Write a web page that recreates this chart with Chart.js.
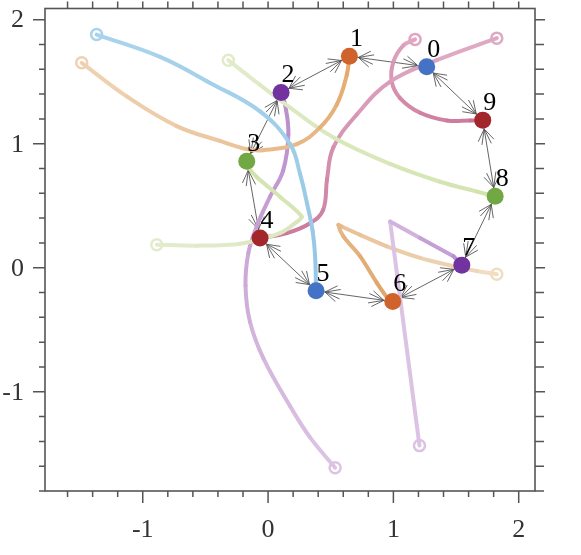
<!DOCTYPE html>
<html lang="en">
<head>
<meta charset="UTF-8">
<title>ring graph with paths</title>
<script src="https://cdn.jsdelivr.net/npm/chart.js"></script>
<style>
  html, body { margin: 0; padding: 0; background: #fff; }
  #wrap { width: 581px; height: 555px; }
</style>
</head>
<body>
<div id="wrap"><canvas id="myChart"></canvas></div>
<script>
// nodes 0..9
const nodeX = [1.266, 0.649, 0.104, -0.170, -0.064, 0.383, 0.995, 1.546, 1.812, 1.713];
const nodeY = [1.620, 1.705, 1.413, 0.858, 0.239, -0.186, -0.273, 0.021, 0.576, 1.190];
const nodeLabels = ["0", "1", "2", "3", "4", "5", "6", "7", "8", "9"];

// ring edges
const edgeFrom = [0, 1, 2, 3, 4, 5, 6, 7, 8, 9];
const edgeTo   = [1, 2, 3, 4, 5, 6, 7, 8, 9, 0];

// paths (start point first), each one ends at its node
const path5 = [[-1.368, 1.880], [-0.862, 1.700], [-0.463, 1.490], [-0.064, 1.261], [0.176, 0.996], [0.255, 0.757], [0.311, 0.518], [0.355, 0.300], [0.375, 0.100]];
const path1 = [[-1.487, 1.652], [-1.128, 1.381], [-0.729, 1.142], [-0.383, 1.022], [-0.170, 0.956], [-0.040, 0.948], [0.229, 0.996], [0.415, 1.131], [0.548, 1.315], [0.628, 1.554]];
const path8 = [[-0.317, 1.673], [-0.064, 1.474], [0.176, 1.291], [0.519, 1.052], [0.974, 0.837], [1.373, 0.693], [1.668, 0.614]];
const path3 = [[-0.888, 0.186], [-0.569, 0.178], [-0.223, 0.194], [0.096, 0.279], [0.230, 0.370], [0.269, 0.412], [0.096, 0.571], [-0.090, 0.731], [-0.157, 0.810]];
const path4 = [[1.825, 1.851], [1.346, 1.673], [0.974, 1.500], [0.708, 1.235], [0.521, 0.970], [0.471, 0.717], [0.439, 0.465], [0.335, 0.359], [0.149, 0.279]];
const path9 = [[1.173, 1.841], [1.080, 1.793], [1.000, 1.660], [0.987, 1.500], [1.053, 1.368], [1.213, 1.249], [1.426, 1.187], [1.612, 1.187]];
const path2 = [[0.535, -1.612], [0.335, -1.368], [0.176, -1.116], [-0.037, -0.731], [-0.144, -0.438], [-0.180, -0.143], [-0.157, 0.120], [-0.090, 0.335], [0.016, 0.574], [0.120, 0.783], [0.162, 1.076], [0.136, 1.315]];
const path7 = [[1.208, -1.434], [0.974, 0.372], [1.213, 0.239], [1.479, 0.093]];
const path6 = [[1.825, -0.053], [1.666, -0.027], [1.479, 0.013], [1.213, 0.080], [0.947, 0.173], [0.734, 0.265], [0.588, 0.332], [0.561, 0.345], [0.601, 0.253], [0.734, 0.093], [0.867, -0.120], [0.960, -0.253]];

const paths    = [path5, path1, path8, path3, path4, path9, path2, path7, path6];
const pathNode = [5, 1, 8, 3, 4, 9, 2, 7, 6];

// axis
const xMin = -1.78, xMax = 2.13, yMin = -1.80, yMax = 2.09;
const xTicks = [-1, 0, 1, 2];
const yTicks = [-1, 0, 1, 2];
const minorStep = 0.2;

// styles
const nodeColors = ["#4472c4", "#d0622c", "#7232a0", "#72a844", "#a3262b",
                    "#4472c4", "#d0622c", "#7232a0", "#72a844", "#a3262b"];
const pathStart = ["#a9d3ea", "#efd1b2", "#e1ebca", "#e3ebcd", "#dfa9c3", "#e0a5c0", "#dcc3e3", "#dcc3e3", "#f0ddc2"];
const pathEnd   = ["#92c5e5", "#e2a565", "#cfe3a8", "#cde0a4", "#c76f95", "#c66f8f", "#b585c8", "#ae7cca", "#dd9c5c"];
const pathTension = [0.4, 0.4, 0.4, 0.3, 0.4, 0.4, 0.4, 0, 0.3];
const serif = "'Liberation Serif', 'Times New Roman', serif";

function hexRgb(h) {
    return [parseInt(h.slice(1, 3), 16), parseInt(h.slice(3, 5), 16), parseInt(h.slice(5, 7), 16)];
}
function mix(a, b, t) {
    const A = hexRgb(a), B = hexRgb(b);
    const c = A.map((v, i) => Math.round(v + (B[i] - v) * t));
    return `rgb(${c[0]},${c[1]},${c[2]})`;
}

// nodes first so they sit on top of the paths
const datasets = [{
    data: nodeX.map((x, i) => ({x: x, y: nodeY[i]})),
    showLine: false,
    pointRadius: 8.5,
    pointBorderWidth: 0,
    pointBackgroundColor: nodeColors,
    pointBorderColor: nodeColors,
    order: 0
}];
paths.forEach((p, k) => {
    const n = pathNode[k];
    const pts = p.map(d => ({x: d[0], y: d[1]}));
    pts.push({x: nodeX[n], y: nodeY[n]});
    const last = pts.length - 1;
    datasets.push({
        data: pts,
        showLine: true,
        tension: pathTension[k],
        borderWidth: 4,
        borderColor: pathStart[k],
        borderCapStyle: "round",
        borderJoinStyle: "round",
        segment: {
            borderColor: ctx => mix(pathStart[k], pathEnd[k], ctx.p0DataIndex / last)
        },
        pointRadius: ctx => ctx.dataIndex === 0 ? 5.5 : 0,
        pointBorderWidth: 2.5,
        pointBorderColor: pathStart[k],
        pointBackgroundColor: "rgba(255,255,255,0)",
        pointHoverRadius: 0,
        order: 1
    });
});

// ring arrows under everything
const arrowPlugin = {
    id: "arrows",
    beforeDatasetsDraw(chart) {
        const {ctx, scales: {x, y}} = chart;
        ctx.save();
        ctx.strokeStyle = "#555";
        ctx.lineWidth = 0.9;
        edgeFrom.forEach((a, i) => {
            const b = edgeTo[i];
            const ax = x.getPixelForValue(nodeX[a]), ay = y.getPixelForValue(nodeY[a]);
            const bx = x.getPixelForValue(nodeX[b]), by = y.getPixelForValue(nodeY[b]);
            ctx.beginPath();
            ctx.moveTo(ax, ay);
            ctx.lineTo(bx, by);
            ctx.stroke();
            head(ctx, ax, ay, bx, by);
            head(ctx, bx, by, ax, ay);
        });
        ctx.restore();
    }
};
function head(ctx, fx, fy, tx, ty) {
    // arrowhead near (tx,ty), pointing from f to t
    const ang = Math.atan2(ty - fy, tx - fx);
    const px = tx - Math.cos(ang) * 9, py = ty - Math.sin(ang) * 9;
    [[0.30, 16], [-0.30, 16], [0.6, 14], [-0.6, 14]].forEach(([d, len]) => {
        ctx.beginPath();
        ctx.moveTo(px, py);
        ctx.lineTo(px - Math.cos(ang + d) * len, py - Math.sin(ang + d) * len);
        ctx.stroke();
    });
}

// frame, ticks, tick labels, node labels
const framePlugin = {
    id: "frame",
    afterDatasetsDraw(chart) {
        const {ctx, chartArea: a, scales: {x, y}} = chart;
        ctx.save();
        ctx.strokeStyle = "#555";
        ctx.lineWidth = 1.6;
        ctx.strokeRect(a.left, a.top, a.right - a.left, a.bottom - a.top);
        ctx.lineWidth = 1.5;
        ctx.beginPath();
        for (let v = -1.6; v <= xMax + 1e-6; v += minorStep) {
            const px = x.getPixelForValue(v);
            const major = Math.abs(v - Math.round(v)) < 1e-6;
            ctx.moveTo(px, a.bottom);
            ctx.lineTo(px, a.bottom + (major ? 12 : 6));
            ctx.moveTo(px, a.top);
            ctx.lineTo(px, a.top - 7);
        }
        for (let v = -1.8; v <= yMax + 1e-6; v += minorStep) {
            const py = y.getPixelForValue(v);
            const major = Math.abs(v - Math.round(v)) < 1e-6;
            ctx.moveTo(a.left, py);
            ctx.lineTo(a.left - (major ? 12 : 6), py);
            ctx.moveTo(a.right, py);
            ctx.lineTo(a.right + (major ? 10 : 9), py);
        }
        ctx.stroke();

        ctx.fillStyle = "#333";
        ctx.font = "26px " + serif;
        ctx.textAlign = "center";
        ctx.textBaseline = "alphabetic";
        xTicks.forEach(v => ctx.fillText(String(v), x.getPixelForValue(v), a.bottom + 46));
        ctx.textAlign = "right";
        ctx.textBaseline = "middle";
        yTicks.forEach(v => ctx.fillText(String(v), a.left - 21, y.getPixelForValue(v) + 1));

        ctx.fillStyle = "#000";
        ctx.textAlign = "center";
        nodeLabels.forEach((t, i) => {
            ctx.fillText(t, x.getPixelForValue(nodeX[i]) + 7, y.getPixelForValue(nodeY[i]) - 17);
        });
        ctx.restore();
    }
};

const chart = new Chart(document.getElementById("myChart"), {
    type: "scatter",
    data: {datasets: datasets},
    options: {
        responsive: true,
        maintainAspectRatio: false,
        animation: false,
        events: [],
        layout: {padding: {top: 3, right: 46, left: 0, bottom: 0}},
        plugins: {legend: {display: false}, tooltip: {enabled: false}},
        scales: {
            x: {
                type: "linear",
                min: xMin, max: xMax,
                afterFit: s => { s.height = 64; },
                grid: {display: false},
                border: {display: false},
                ticks: {display: false}
            },
            y: {
                type: "linear",
                min: yMin, max: yMax,
                afterFit: s => { s.width = 45; },
                grid: {display: false},
                border: {display: false},
                ticks: {display: false}
            }
        }
    },
    plugins: [arrowPlugin, framePlugin]
});
</script>
</body>
</html>
